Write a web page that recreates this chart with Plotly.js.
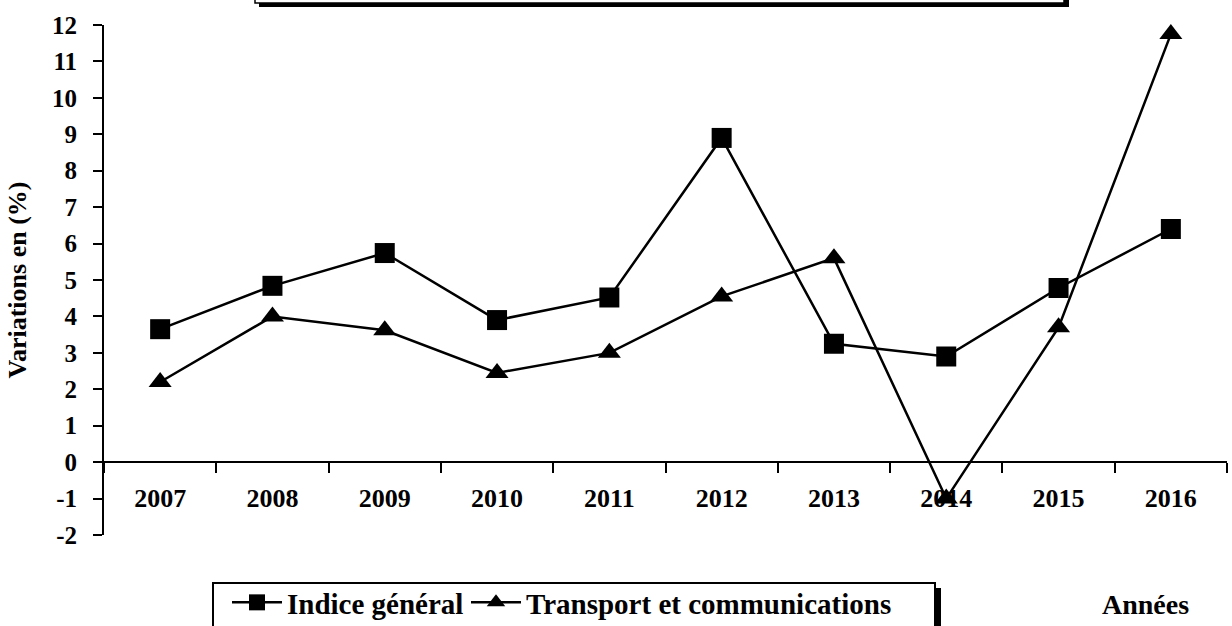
<!DOCTYPE html>
<html>
<head>
<meta charset="utf-8">
<script src="https://cdn.plot.ly/plotly-3.0.1.min.js"></script>
<style>html,body{margin:0;padding:0;background:#fff;}#chart{width:1232px;height:626px;}</style>
</head>
<body>
<div id="chart"></div>
<script>
const years = ['2007','2008','2009','2010','2011','2012','2013','2014','2015','2016'];
const indiceGeneral = [3.65, 4.84, 5.74, 3.9, 4.52, 8.9, 3.25, 2.9, 4.78, 6.4];
const transportCommunications = [2.2, 4.0, 3.62, 2.45, 3.0, 4.55, 5.6, -1.0, 3.7, 11.75];
const yTicks = [-2,-1,0,1,2,3,4,5,6,7,8,9,10,11,12];

const W = 1232, H = 626;
const M = {l: 104, r: 5, t: 25, b: 91, autoexpand: false};
const PW = W - M.l - M.r, PH = H - M.t - M.b;
const px = x => (x - M.l) / PW;
const py = y => (H - M.b - y) / PH;

const FONT = 'Liberation Serif';
const f = size => ({family: FONT, size: size, color: '#000', weight: 'bold'});

const traces = [
  {
    x: years, y: indiceGeneral, name: 'Indice général', type: 'scatter', mode: 'lines+markers',
    line: {color: '#000', width: 2.5},
    marker: {symbol: 'square', size: 20, color: '#000'},
    cliponaxis: false, legend: 'legend'
  },
  {
    x: years, y: transportCommunications, name: 'Transport et communications', type: 'scatter', mode: 'lines+markers',
    line: {color: '#000', width: 2.5},
    marker: {symbol: 'triangle-up', size: 20, color: '#000'},
    cliponaxis: false, legend: 'legend2'
  }
];

const legendBase = {
  orientation: 'h', xanchor: 'left', yanchor: 'top',
  borderwidth: 0, bgcolor: 'rgba(0,0,0,0)',
  font: f(29),
  itemwidth: 50
};

const layout = {
  width: W, height: H,
  margin: M,
  paper_bgcolor: '#fff', plot_bgcolor: '#fff',
  showlegend: true,
  font: {family: FONT, color: '#000'},
  xaxis: {
    type: 'category', range: [-0.5, 9.5],
    anchor: 'free', position: 2/14,
    showline: true, linecolor: '#000', linewidth: 2,
    ticks: 'outside', ticklen: 10, tickwidth: 2, tickcolor: '#000',
    tickson: 'boundaries',
    showgrid: false, zeroline: false,
    tickfont: f(26),
    ticklabelstandoff: 13,
    automargin: false,
    fixedrange: true
  },
  yaxis: {
    range: [-2, 12], tickvals: yTicks, ticktext: yTicks.map(String),
    showline: true, linecolor: '#000', linewidth: 2,
    ticks: 'outside', ticklen: 9, tickwidth: 2, tickcolor: '#000',
    showgrid: false, zeroline: false,
    tickfont: f(25),
    ticklabelstandoff: 11,
    title: {text: 'Variations en (%)', font: f(26), standoff: 18},
    automargin: false,
    fixedrange: true
  },
  legend: Object.assign({}, legendBase, {x: px(227), y: py(577)}),
  legend2: Object.assign({}, legendBase, {x: px(466), y: py(577)}),
  annotations: [
    {text: 'Années', xref: 'paper', yref: 'paper', x: px(1145), y: py(604), xanchor: 'center', yanchor: 'middle',
     showarrow: false, font: f(28)}
  ],
  shapes: [
    {type: 'rect', xref: 'paper', yref: 'paper', x0: px(259), x1: px(1069), y0: py(-20), y1: py(7), fillcolor: '#000', line: {width: 0}, layer: 'below'},
    {type: 'rect', xref: 'paper', yref: 'paper', x0: px(255), x1: px(1064), y0: py(-20), y1: py(3), fillcolor: '#fff', line: {color: '#000', width: 1.5}, layer: 'below'},
    {type: 'rect', xref: 'paper', yref: 'paper', x0: px(935), x1: px(941), y0: py(588), y1: py(640), fillcolor: '#000', line: {width: 0}, layer: 'below'},
    {type: 'rect', xref: 'paper', yref: 'paper', x0: px(213), x1: px(935), y0: py(583), y1: py(640), fillcolor: 'rgba(0,0,0,0)', line: {color: '#000', width: 2}, layer: 'below'}
  ]
};

Plotly.newPlot('chart', traces, layout, {displayModeBar: false, staticPlot: true});
</script>
</body>
</html>
